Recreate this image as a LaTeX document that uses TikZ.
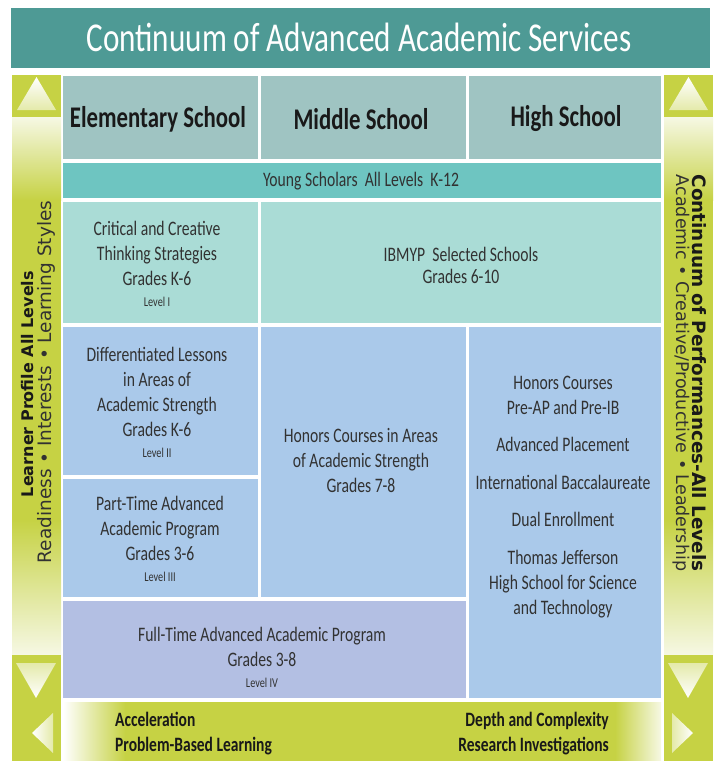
\documentclass[tikz,border=0pt]{standalone}
\usepackage{fontspec}
\setmainfont{Carlito}[FakeStretch=0.76]
\newfontfamily\sidefont{DejaVu Sans}
\definecolor{titlebg}{RGB}{78,154,149}
\definecolor{headbg}{RGB}{159,196,194}
\definecolor{youngbg}{RGB}{110,197,193}
\definecolor{aquabg}{RGB}{170,220,214}
\definecolor{bluebg}{RGB}{170,201,234}
\definecolor{lavbg}{RGB}{179,191,227}
\definecolor{ylw}{RGB}{198,210,68}
\definecolor{ylwpale}{RGB}{246,248,228}
\definecolor{ylwtri}{RGB}{228,234,170}
\definecolor{txt}{RGB}{50,50,50}
\definecolor{dark}{RGB}{25,25,25}
\pgfdeclarehorizontalshading{bottomshade}{100bp}{color(0bp)=(white); color(25bp)=(white); color(30.2bp)=(ylw); color(71.15bp)=(ylw); color(75bp)=(ylwpale); color(100bp)=(ylwpale)}
\tikzset{
  body/.style={align=center, text=txt, inner sep=0pt, font=\fontsize{20.6}{25}\selectfont},
  head/.style={align=center, text=dark, inner sep=0pt, font=\bfseries\fontsize{30}{34}\selectfont},
  bottomtxt/.style={inner sep=0pt, text=dark, font=\bfseries\fontsize{20.4}{25}\selectfont},
  sidebold/.style={inner sep=0pt, text=dark, font=\sidefont\bfseries\fontsize{#1}{20}\selectfont},
  sidereg/.style={inner sep=0pt, text=txt, font=\sidefont\fontsize{#1}{20}\selectfont}
}
\newcommand{\lvl}{\fontsize{13.5}{15}\selectfont}
\begin{document}
\begin{tikzpicture}[x=1pt,y=1pt]
\useasboundingbox[fill=white] (0,0) rectangle (716,-761);
% title band
\fill[titlebg] (11,-8) rectangle (710,-68);
\node[text=white, inner sep=0pt, font=\fontsize{41}{45}\selectfont] (title) at (359,-37) {Continuum of Advanced Academic Services};
% left side bar
\fill[ylw] (12,-75) rectangle (61,-117);
\shade[top color=ylwpale, bottom color=ylw] (12,-117) rectangle (61,-200);
\fill[ylw] (12,-200) rectangle (61,-520);
\shade[top color=ylw, bottom color=ylwpale] (12,-520) rectangle (61,-655);
\fill[ylw] (12,-655) rectangle (61,-761);
% right side bar
\fill[ylw] (664,-75) rectangle (713,-117);
\shade[top color=ylwpale, bottom color=ylw] (664,-117) rectangle (713,-200);
\fill[ylw] (664,-200) rectangle (713,-520);
\shade[top color=ylw, bottom color=ylwpale] (664,-520) rectangle (713,-655);
\fill[ylw] (664,-655) rectangle (713,-761);
% bottom bar
\shade[shading=bottomshade] (63,-702) rectangle (661,-761);
% triangles
\shade[top color=white, bottom color=ylwtri] (36.5,-77) -- (56,-110) -- (17,-110) -- cycle;
\shade[top color=white, bottom color=ylwtri] (688.5,-77) -- (708,-110) -- (669,-110) -- cycle;
\shade[top color=ylwtri, bottom color=white] (16,-663) -- (56,-663) -- (36,-698) -- cycle;
\shade[top color=ylwtri, bottom color=white] (668,-663) -- (708,-663) -- (688,-698) -- cycle;
\shade[left color=white, right color=ylwtri] (32,-733) -- (53,-713) -- (53,-753) -- cycle;
\shade[left color=ylwtri, right color=white] (693,-733) -- (672,-713) -- (672,-753) -- cycle;
% cells
\fill[headbg] (63,-76) rectangle (258,-159);
\fill[headbg] (261,-76) rectangle (466,-159);
\fill[headbg] (469,-76) rectangle (661,-159);
\fill[youngbg] (63,-163) rectangle (661,-198);
\fill[aquabg] (63,-202) rectangle (258,-323);
\fill[aquabg] (261,-202) rectangle (661,-323);
\fill[bluebg] (63,-327) rectangle (258,-475);
\fill[bluebg] (63,-479) rectangle (258,-597);
\fill[bluebg] (261,-327) rectangle (466,-597);
\fill[bluebg] (469,-327) rectangle (661,-698);
\fill[lavbg] (63,-601) rectangle (466,-698);
% headers
\node[head] (elem) at (158,-119) {Elementary School};
\node[head] (mid) at (361,-119) {Middle School};
\node[head] (high) at (566,-119) {High School};
% body texts
\node[body] (young) at (361,-181) {Young Scholars\ \ All Levels\ \ K-12};
\node[body] (crit) at (157,-264) {Critical and Creative\\Thinking Strategies\\Grades K-6\\[-4pt]{\lvl Level I}};
\node[body, font=\fontsize{20.6}{22}\selectfont] (ibmyp) at (461,-265) {IBMYP\ \ Selected Schools\\Grades 6-10};
\node[body] (diff) at (157,-402) {Differentiated Lessons\\in Areas of\\Academic Strength\\Grades K-6\\[-4pt]{\lvl Level II}};
\node[body] (part) at (160,-539) {Part-Time Advanced\\Academic Program\\Grades 3-6\\[-4pt]{\lvl Level III}};
\node[body] (honm) at (361,-460) {Honors Courses in Areas\\of Academic Strength\\Grades 7-8};
\node[body] (hs) at (563,-497) {Honors Courses\\Pre-AP and Pre-IB\\[12.5pt]Advanced Placement\\[12.5pt]International Baccalaureate\\[12.5pt]Dual Enrollment\\[12.5pt]Thomas Jefferson\\High School for Science\\and Technology};
\node[body] (full) at (262,-657) {Full-Time Advanced Academic Program\\Grades 3-8\\[-4pt]{\lvl Level IV}};
% bottom texts
\node[bottomtxt, align=left, anchor=west] (accel) at (115,-734) {Acceleration\\Problem-Based Learning};
\node[bottomtxt, align=right, anchor=east] (depth) at (609,-734) {Depth and Complexity\\Research Investigations};
% side texts
\node[sidebold=16, rotate=90] (lp) at (28,-384) {Learner Profile All Levels};
\node[sidereg=18.5, rotate=90] (lpr) at (46,-382) {Readiness \textbullet\ Interests \textbullet\ Learning Styles};
\node[sidebold=18.4, rotate=-90] (cp) at (699,-373) {Continuum of Performances-All Levels};
\node[sidereg=17.5, rotate=-90] (cpr) at (681,-373) {Academic \textbullet\ Creative/Productive \textbullet\ Leadership};
\end{tikzpicture}
\end{document}
